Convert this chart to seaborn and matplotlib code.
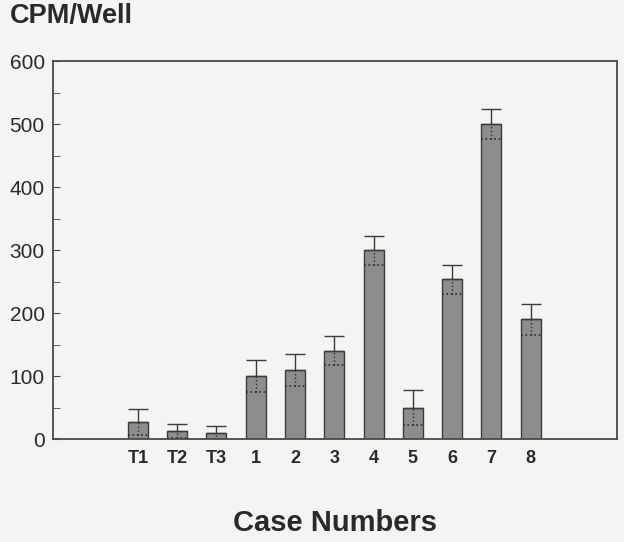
import numpy as np
import pandas as pd
import matplotlib.pyplot as plt
import seaborn as sns

# values
cases = ['T1', 'T2', 'T3', '1', '2', '3', '4', '5', '6', '7', '8']
cpm = [27, 13, 9, 100, 110, 140, 300, 50, 254, 500, 190]
err = [21, 11, 11, 25, 25, 23, 23, 28, 23, 24, 25]

df = pd.DataFrame({'case': cases, 'cpm': cpm})

sns.set_style('ticks')
plt.rcParams['font.family'] = ['Liberation Sans', 'DejaVu Sans']
paper = '#f4f4f2'
ink = '#4a4a4a'

fig = plt.figure(figsize=(6.24, 5.42), dpi=100, facecolor=paper)
ax = fig.add_axes([0.085, 0.19, 0.904, 0.697])
ax.set_facecolor(paper)

sns.barplot(data=df, x='case', y='cpm', order=cases, color='#8d8d8d',
            width=0.51, edgecolor='#3c3c3c', linewidth=1.0, saturation=1,
            errorbar=None, ax=ax)

x = np.arange(len(cases))
y = np.array(cpm)
e = np.array(err)
# upper half of the error bar, solid with cap
ax.errorbar(x, y, yerr=[np.zeros_like(e), e], fmt='none', ecolor='#3c3c3c',
            elinewidth=1.0, capsize=7, capthick=1.0)
# lower half drawn dotted inside the bar
ax.vlines(x, y - e, y, colors='#2e2e2e', linestyles=':', linewidth=1.0)
ax.hlines(y - e, x - 0.255, x + 0.255, colors='#2e2e2e', linestyles=':', linewidth=1.2)

ax.set_xlim(-2.16, 12.2)
ax.set_ylim(0, 600)
ax.set_yticks(range(0, 601, 100))
ax.set_yticks(range(50, 600, 100), minor=True)
ax.tick_params(axis='y', which='both', direction='in', length=5, color=ink,
               labelsize=15, labelcolor='#2a2a2a', pad=6)
ax.tick_params(axis='x', length=0, labelsize=13, labelcolor='#2a2a2a', pad=8)
for lab in ax.get_xticklabels():
    lab.set_fontweight('bold')
for s in ax.spines.values():
    s.set_color(ink)
    s.set_linewidth(1.3)

ax.set_xlabel('')
ax.set_ylabel('')
fig.text(0.016, 0.971, 'CPM/Well', fontsize=19.5, fontweight='bold',
         color='#2a2a2a', ha='left', va='center')
fig.text(0.537, 0.035, 'Case Numbers', fontsize=21, fontweight='bold',
         color='#2a2a2a', ha='center', va='center')

plt.savefig('out.png', dpi=100, facecolor=paper)
